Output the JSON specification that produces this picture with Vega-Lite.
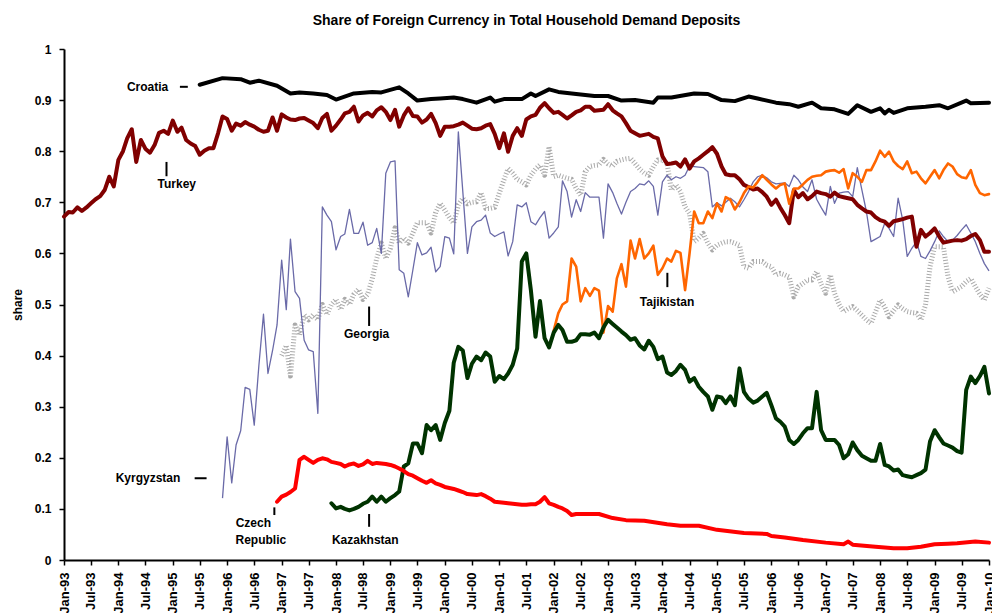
{
  "$schema": "https://vega.github.io/schema/vega-lite/v6.json",
  "width": 925,
  "height": 511,
  "autosize": "none",
  "padding": {"left": 64, "top": 49, "right": 3, "bottom": 53},
  "background": "white",
  "title": {"text": "Share of Foreign Currency in Total Household Demand Deposits", "font": "Liberation Sans", "fontSize": 14, "fontWeight": "bold", "color": "black", "anchor": "middle", "offset": 15},
  "config": {"view": {"stroke": null}},
  "datasets": {
    "croatia": [
      {"date":"1995-07","share":0.930},{"date":"1995-12","share":0.943},{"date":"1996-04","share":0.941},{"date":"1996-06","share":0.934},{"date":"1996-08","share":0.938},{"date":"1996-12","share":0.928},{"date":"1997-03","share":0.913},{"date":"1997-05","share":0.915},{"date":"1997-08","share":0.913},{"date":"1997-11","share":0.910},{"date":"1998-01","share":0.901},{"date":"1998-05","share":0.913},{"date":"1998-09","share":0.916},{"date":"1998-11","share":0.915},{"date":"1999-03","share":0.925},{"date":"1999-05","share":0.913},{"date":"1999-07","share":0.899},{"date":"1999-10","share":0.902},{"date":"1999-12","share":0.903},{"date":"2000-03","share":0.905},{"date":"2000-05","share":0.902},{"date":"2000-08","share":0.895},{"date":"2000-11","share":0.905},{"date":"2000-12","share":0.897},{"date":"2001-02","share":0.902},{"date":"2001-06","share":0.902},{"date":"2001-08","share":0.913},{"date":"2001-09","share":0.908},{"date":"2001-12","share":0.921},{"date":"2002-02","share":0.916},{"date":"2002-06","share":0.912},{"date":"2002-10","share":0.908},{"date":"2003-01","share":0.908},{"date":"2003-04","share":0.899},{"date":"2003-07","share":0.900},{"date":"2003-11","share":0.895},{"date":"2003-12","share":0.905},{"date":"2004-03","share":0.905},{"date":"2004-08","share":0.913},{"date":"2004-11","share":0.912},{"date":"2005-02","share":0.900},{"date":"2005-05","share":0.898},{"date":"2005-08","share":0.907},{"date":"2005-10","share":0.903},{"date":"2006-02","share":0.895},{"date":"2006-05","share":0.892},{"date":"2006-07","share":0.887},{"date":"2006-10","share":0.895},{"date":"2006-12","share":0.884},{"date":"2007-03","share":0.882},{"date":"2007-06","share":0.873},{"date":"2007-08","share":0.890},{"date":"2007-11","share":0.877},{"date":"2008-01","share":0.884},{"date":"2008-02","share":0.874},{"date":"2008-03","share":0.881},{"date":"2008-04","share":0.875},{"date":"2008-07","share":0.884},{"date":"2008-11","share":0.887},{"date":"2009-02","share":0.890},{"date":"2009-04","share":0.884},{"date":"2009-08","share":0.899},{"date":"2009-09","share":0.894},{"date":"2010-01","share":0.895}
    ],
    "turkey": [
      {"date":"1993-01","share":0.672},{"date":"1993-02","share":0.681},{"date":"1993-03","share":0.680},{"date":"1993-04","share":0.690},{"date":"1993-05","share":0.683},{"date":"1993-06","share":0.690},{"date":"1993-07","share":0.698},{"date":"1993-08","share":0.706},{"date":"1993-09","share":0.712},{"date":"1993-10","share":0.724},{"date":"1993-11","share":0.750},{"date":"1993-12","share":0.731},
      {"date":"1994-01","share":0.783},{"date":"1994-02","share":0.800},{"date":"1994-03","share":0.825},{"date":"1994-04","share":0.843},{"date":"1994-05","share":0.779},{"date":"1994-06","share":0.822},{"date":"1994-07","share":0.805},{"date":"1994-08","share":0.797},{"date":"1994-09","share":0.812},{"date":"1994-10","share":0.836},{"date":"1994-11","share":0.840},{"date":"1994-12","share":0.834},
      {"date":"1995-01","share":0.860},{"date":"1995-02","share":0.838},{"date":"1995-03","share":0.846},{"date":"1995-04","share":0.822},{"date":"1995-05","share":0.815},{"date":"1995-06","share":0.810},{"date":"1995-07","share":0.793},{"date":"1995-08","share":0.801},{"date":"1995-09","share":0.806},{"date":"1995-10","share":0.806},{"date":"1995-11","share":0.835},{"date":"1995-12","share":0.868},
      {"date":"1996-01","share":0.863},{"date":"1996-02","share":0.840},{"date":"1996-03","share":0.854},{"date":"1996-04","share":0.850},{"date":"1996-05","share":0.857},{"date":"1996-06","share":0.852},{"date":"1996-07","share":0.848},{"date":"1996-08","share":0.842},{"date":"1996-09","share":0.838},{"date":"1996-10","share":0.840},{"date":"1996-11","share":0.866},{"date":"1996-12","share":0.840},
      {"date":"1997-01","share":0.872},{"date":"1997-02","share":0.866},{"date":"1997-03","share":0.862},{"date":"1997-04","share":0.861},{"date":"1997-05","share":0.864},{"date":"1997-06","share":0.865},{"date":"1997-07","share":0.860},{"date":"1997-08","share":0.855},{"date":"1997-09","share":0.845},{"date":"1997-10","share":0.865},{"date":"1997-11","share":0.873},{"date":"1997-12","share":0.840},
      {"date":"1998-01","share":0.850},{"date":"1998-02","share":0.862},{"date":"1998-03","share":0.874},{"date":"1998-04","share":0.877},{"date":"1998-05","share":0.887},{"date":"1998-06","share":0.858},{"date":"1998-07","share":0.870},{"date":"1998-08","share":0.875},{"date":"1998-09","share":0.868},{"date":"1998-10","share":0.880},{"date":"1998-11","share":0.886},{"date":"1998-12","share":0.877},
      {"date":"1999-01","share":0.861},{"date":"1999-02","share":0.881},{"date":"1999-03","share":0.848},{"date":"1999-04","share":0.870},{"date":"1999-05","share":0.884},{"date":"1999-06","share":0.869},{"date":"1999-07","share":0.868},{"date":"1999-08","share":0.856},{"date":"1999-09","share":0.862},{"date":"1999-10","share":0.873},{"date":"1999-11","share":0.855},{"date":"1999-12","share":0.830},
      {"date":"2000-01","share":0.848},{"date":"2000-02","share":0.848},{"date":"2000-03","share":0.849},{"date":"2000-04","share":0.852},{"date":"2000-05","share":0.856},{"date":"2000-06","share":0.850},{"date":"2000-07","share":0.844},{"date":"2000-08","share":0.843},{"date":"2000-09","share":0.845},{"date":"2000-10","share":0.850},{"date":"2000-11","share":0.853},{"date":"2000-12","share":0.834},
      {"date":"2001-01","share":0.806},{"date":"2001-02","share":0.835},{"date":"2001-03","share":0.799},{"date":"2001-04","share":0.830},{"date":"2001-05","share":0.845},{"date":"2001-06","share":0.830},{"date":"2001-07","share":0.862},{"date":"2001-08","share":0.868},{"date":"2001-09","share":0.871},{"date":"2001-10","share":0.885},{"date":"2001-11","share":0.894},{"date":"2001-12","share":0.884},
      {"date":"2002-01","share":0.875},{"date":"2002-02","share":0.877},{"date":"2002-03","share":0.871},{"date":"2002-04","share":0.864},{"date":"2002-05","share":0.870},{"date":"2002-06","share":0.877},{"date":"2002-07","share":0.880},{"date":"2002-08","share":0.887},{"date":"2002-09","share":0.887},{"date":"2002-10","share":0.879},{"date":"2002-11","share":0.880},{"date":"2002-12","share":0.881},
      {"date":"2003-01","share":0.892},{"date":"2003-02","share":0.880},{"date":"2003-03","share":0.874},{"date":"2003-04","share":0.868},{"date":"2003-05","share":0.855},{"date":"2003-06","share":0.840},{"date":"2003-07","share":0.835},{"date":"2003-08","share":0.830},{"date":"2003-09","share":0.832},{"date":"2003-10","share":0.834},{"date":"2003-11","share":0.828},{"date":"2003-12","share":0.825},
      {"date":"2004-01","share":0.790},{"date":"2004-02","share":0.775},{"date":"2004-03","share":0.776},{"date":"2004-04","share":0.778},{"date":"2004-05","share":0.770},{"date":"2004-06","share":0.784},{"date":"2004-07","share":0.766},{"date":"2004-08","share":0.780},{"date":"2004-09","share":0.786},{"date":"2004-10","share":0.793},{"date":"2004-11","share":0.800},{"date":"2004-12","share":0.808},
      {"date":"2005-01","share":0.795},{"date":"2005-02","share":0.770},{"date":"2005-03","share":0.755},{"date":"2005-04","share":0.753},{"date":"2005-05","share":0.753},{"date":"2005-06","share":0.745},{"date":"2005-07","share":0.734},{"date":"2005-08","share":0.730},{"date":"2005-09","share":0.725},{"date":"2005-10","share":0.727},{"date":"2005-11","share":0.720},{"date":"2005-12","share":0.711},
      {"date":"2006-01","share":0.695},{"date":"2006-02","share":0.705},{"date":"2006-03","share":0.690},{"date":"2006-04","share":0.675},{"date":"2006-05","share":0.659},{"date":"2006-06","share":0.724},{"date":"2006-07","share":0.710},{"date":"2006-08","share":0.718},{"date":"2006-09","share":0.706},{"date":"2006-10","share":0.712},{"date":"2006-11","share":0.721},{"date":"2006-12","share":0.718},
      {"date":"2007-01","share":0.716},{"date":"2007-02","share":0.711},{"date":"2007-03","share":0.719},{"date":"2007-04","share":0.712},{"date":"2007-05","share":0.710},{"date":"2007-06","share":0.708},{"date":"2007-07","share":0.706},{"date":"2007-08","share":0.695},{"date":"2007-09","share":0.688},{"date":"2007-10","share":0.682},{"date":"2007-11","share":0.680},{"date":"2007-12","share":0.671},
      {"date":"2008-01","share":0.665},{"date":"2008-02","share":0.662},{"date":"2008-03","share":0.654},{"date":"2008-04","share":0.663},{"date":"2008-05","share":0.665},{"date":"2008-06","share":0.667},{"date":"2008-07","share":0.670},{"date":"2008-08","share":0.672},{"date":"2008-09","share":0.613},{"date":"2008-10","share":0.646},{"date":"2008-11","share":0.633},{"date":"2008-12","share":0.640},
      {"date":"2009-01","share":0.649},{"date":"2009-02","share":0.633},{"date":"2009-03","share":0.621},{"date":"2009-04","share":0.623},{"date":"2009-05","share":0.625},{"date":"2009-06","share":0.626},{"date":"2009-07","share":0.625},{"date":"2009-08","share":0.628},{"date":"2009-09","share":0.634},{"date":"2009-10","share":0.638},{"date":"2009-11","share":0.626},{"date":"2009-12","share":0.603},{"date":"2010-01","share":0.603}
    ],
    "kyrgyzstan": [
      {"date":"1995-12","share":0.121},
      {"date":"1996-01","share":0.241},{"date":"1996-02","share":0.151},{"date":"1996-03","share":0.225},{"date":"1996-04","share":0.253},{"date":"1996-05","share":0.338},{"date":"1996-06","share":0.334},{"date":"1996-07","share":0.264},{"date":"1996-08","share":0.380},{"date":"1996-09","share":0.481},{"date":"1996-10","share":0.365},{"date":"1996-11","share":0.410},{"date":"1996-12","share":0.460},
      {"date":"1997-01","share":0.587},{"date":"1997-02","share":0.490},{"date":"1997-03","share":0.628},{"date":"1997-04","share":0.525},{"date":"1997-05","share":0.512},{"date":"1997-06","share":0.430},{"date":"1997-07","share":0.411},{"date":"1997-08","share":0.408},{"date":"1997-09","share":0.287},{"date":"1997-10","share":0.691},{"date":"1997-11","share":0.675},{"date":"1997-12","share":0.662},
      {"date":"1998-01","share":0.607},{"date":"1998-02","share":0.633},{"date":"1998-03","share":0.638},{"date":"1998-04","share":0.686},{"date":"1998-05","share":0.639},{"date":"1998-06","share":0.639},{"date":"1998-07","share":0.661},{"date":"1998-08","share":0.616},{"date":"1998-09","share":0.621},{"date":"1998-10","share":0.649},{"date":"1998-11","share":0.600},{"date":"1998-12","share":0.757},
      {"date":"1999-01","share":0.779},{"date":"1999-02","share":0.781},{"date":"1999-03","share":0.568},{"date":"1999-04","share":0.561},{"date":"1999-05","share":0.515},{"date":"1999-06","share":0.568},{"date":"1999-07","share":0.621},{"date":"1999-08","share":0.597},{"date":"1999-09","share":0.601},{"date":"1999-10","share":0.612},{"date":"1999-11","share":0.564},{"date":"1999-12","share":0.574},
      {"date":"2000-01","share":0.633},{"date":"2000-02","share":0.630},{"date":"2000-03","share":0.599},{"date":"2000-04","share":0.838},{"date":"2000-06","share":0.600},{"date":"2000-07","share":0.652},{"date":"2000-08","share":0.662},{"date":"2000-09","share":0.665},{"date":"2000-10","share":0.675},{"date":"2000-11","share":0.640},{"date":"2000-12","share":0.633},
      {"date":"2001-01","share":0.638},{"date":"2001-02","share":0.642},{"date":"2001-03","share":0.595},{"date":"2001-04","share":0.623},{"date":"2001-05","share":0.695},{"date":"2001-06","share":0.691},{"date":"2001-07","share":0.699},{"date":"2001-08","share":0.662},{"date":"2001-09","share":0.656},{"date":"2001-10","share":0.670},{"date":"2001-11","share":0.682},{"date":"2001-12","share":0.630},
      {"date":"2002-01","share":0.640},{"date":"2002-02","share":0.652},{"date":"2002-03","share":0.742},{"date":"2002-04","share":0.721},{"date":"2002-05","share":0.671},{"date":"2002-06","share":0.705},{"date":"2002-07","share":0.682},{"date":"2002-08","share":0.719},{"date":"2002-09","share":0.710},{"date":"2002-10","share":0.710},{"date":"2002-11","share":0.710},{"date":"2002-12","share":0.630},
      {"date":"2003-01","share":0.736},{"date":"2003-02","share":0.719},{"date":"2003-03","share":0.698},{"date":"2003-04","share":0.677},{"date":"2003-05","share":0.700},{"date":"2003-06","share":0.721},{"date":"2003-07","share":0.727},{"date":"2003-08","share":0.736},{"date":"2003-09","share":0.734},{"date":"2003-10","share":0.742},{"date":"2003-11","share":0.731},{"date":"2003-12","share":0.675},
      {"date":"2004-01","share":0.740},{"date":"2004-02","share":0.753},{"date":"2004-03","share":0.744},{"date":"2004-04","share":0.750},{"date":"2004-05","share":0.747},{"date":"2004-06","share":0.753},{"date":"2004-07","share":0.771},{"date":"2004-08","share":0.770},{"date":"2004-09","share":0.769},{"date":"2004-10","share":0.768},{"date":"2004-11","share":0.760},{"date":"2004-12","share":0.691},
      {"date":"2005-01","share":0.699},{"date":"2005-02","share":0.693},{"date":"2005-03","share":0.700},{"date":"2005-04","share":0.708},{"date":"2005-05","share":0.701},{"date":"2005-06","share":0.691},{"date":"2005-07","share":0.705},{"date":"2005-08","share":0.721},{"date":"2005-09","share":0.740},{"date":"2005-10","share":0.750},{"date":"2005-11","share":0.753},{"date":"2005-12","share":0.748},
      {"date":"2006-01","share":0.740},{"date":"2006-02","share":0.736},{"date":"2006-03","share":0.737},{"date":"2006-04","share":0.738},{"date":"2006-05","share":0.731},{"date":"2006-06","share":0.753},{"date":"2006-07","share":0.744},{"date":"2006-08","share":0.730},{"date":"2006-09","share":0.721},{"date":"2006-10","share":0.744},{"date":"2006-11","share":0.706},{"date":"2006-12","share":0.690},
      {"date":"2007-01","share":0.675},{"date":"2007-02","share":0.731},{"date":"2007-03","share":0.698},{"date":"2007-04","share":0.718},{"date":"2007-05","share":0.720},{"date":"2007-06","share":0.721},{"date":"2007-07","share":0.711},{"date":"2007-08","share":0.768},{"date":"2007-09","share":0.724},{"date":"2007-10","share":0.682},{"date":"2007-11","share":0.623},{"date":"2007-12","share":0.628},
      {"date":"2008-01","share":0.633},{"date":"2008-02","share":0.659},{"date":"2008-03","share":0.649},{"date":"2008-04","share":0.633},{"date":"2008-05","share":0.708},{"date":"2008-06","share":0.665},{"date":"2008-07","share":0.594},{"date":"2008-08","share":0.610},{"date":"2008-09","share":0.623},{"date":"2008-10","share":0.594},{"date":"2008-11","share":0.590},{"date":"2008-12","share":0.605},
      {"date":"2009-01","share":0.623},{"date":"2009-02","share":0.644},{"date":"2009-03","share":0.633},{"date":"2009-04","share":0.623},{"date":"2009-05","share":0.626},{"date":"2009-06","share":0.635},{"date":"2009-07","share":0.646},{"date":"2009-08","share":0.656},{"date":"2009-09","share":0.640},{"date":"2009-10","share":0.623},{"date":"2009-11","share":0.600},{"date":"2009-12","share":0.580},{"date":"2010-01","share":0.566}
    ],
    "georgia": [
      {"date":"1997-01","share":0.40},{"date":"1997-02","share":0.42},{"date":"1997-03","share":0.36},{"date":"1997-04","share":0.46},{"date":"1997-05","share":0.44},{"date":"1997-06","share":0.48},{"date":"1997-07","share":0.47},{"date":"1997-08","share":0.48},{"date":"1997-09","share":0.47},{"date":"1997-10","share":0.50},{"date":"1997-11","share":0.48},{"date":"1997-12","share":0.50},
      {"date":"1998-01","share":0.51},{"date":"1998-02","share":0.49},{"date":"1998-03","share":0.51},{"date":"1998-04","share":0.50},{"date":"1998-05","share":0.52},{"date":"1998-06","share":0.53},{"date":"1998-07","share":0.51},{"date":"1998-08","share":0.52},{"date":"1998-09","share":0.55},{"date":"1998-10","share":0.59},{"date":"1998-11","share":0.62},{"date":"1998-12","share":0.59},
      {"date":"1999-01","share":0.61},{"date":"1999-02","share":0.65},{"date":"1999-03","share":0.62},{"date":"1999-04","share":0.63},{"date":"1999-05","share":0.62},{"date":"1999-06","share":0.64},{"date":"1999-07","share":0.66},{"date":"1999-08","share":0.66},{"date":"1999-09","share":0.66},{"date":"1999-10","share":0.64},{"date":"1999-11","share":0.68},{"date":"1999-12","share":0.698},
      {"date":"2000-01","share":0.685},{"date":"2000-02","share":0.670},{"date":"2000-03","share":0.659},{"date":"2000-04","share":0.695},{"date":"2000-05","share":0.708},{"date":"2000-06","share":0.697},{"date":"2000-07","share":0.700},{"date":"2000-08","share":0.701},{"date":"2000-09","share":0.719},{"date":"2000-10","share":0.688},{"date":"2000-11","share":0.688},{"date":"2000-12","share":0.690},
      {"date":"2001-01","share":0.718},{"date":"2001-02","share":0.744},{"date":"2001-03","share":0.766},{"date":"2001-04","share":0.757},{"date":"2001-05","share":0.745},{"date":"2001-06","share":0.740},{"date":"2001-07","share":0.734},{"date":"2001-08","share":0.753},{"date":"2001-09","share":0.765},{"date":"2001-10","share":0.773},{"date":"2001-11","share":0.753},{"date":"2001-12","share":0.809},
      {"date":"2002-01","share":0.750},{"date":"2002-02","share":0.753},{"date":"2002-03","share":0.750},{"date":"2002-04","share":0.747},{"date":"2002-05","share":0.745},{"date":"2002-06","share":0.727},{"date":"2002-07","share":0.714},{"date":"2002-08","share":0.760},{"date":"2002-09","share":0.770},{"date":"2002-10","share":0.772},{"date":"2002-11","share":0.773},{"date":"2002-12","share":0.784},
      {"date":"2003-01","share":0.775},{"date":"2003-02","share":0.771},{"date":"2003-03","share":0.780},{"date":"2003-04","share":0.783},{"date":"2003-05","share":0.785},{"date":"2003-06","share":0.786},{"date":"2003-07","share":0.776},{"date":"2003-08","share":0.765},{"date":"2003-09","share":0.757},{"date":"2003-10","share":0.753},{"date":"2003-11","share":0.770},{"date":"2003-12","share":0.783},
      {"date":"2004-01","share":0.783},{"date":"2004-02","share":0.776},{"date":"2004-03","share":0.724},{"date":"2004-04","share":0.734},{"date":"2004-05","share":0.721},{"date":"2004-06","share":0.691},{"date":"2004-07","share":0.678},{"date":"2004-08","share":0.623},{"date":"2004-09","share":0.630},{"date":"2004-10","share":0.639},{"date":"2004-11","share":0.620},{"date":"2004-12","share":0.607},
      {"date":"2005-01","share":0.616},{"date":"2005-02","share":0.620},{"date":"2005-03","share":0.623},{"date":"2005-04","share":0.623},{"date":"2005-05","share":0.620},{"date":"2005-06","share":0.616},{"date":"2005-07","share":0.574},{"date":"2005-08","share":0.571},{"date":"2005-09","share":0.584},{"date":"2005-10","share":0.584},{"date":"2005-11","share":0.584},{"date":"2005-12","share":0.577},
      {"date":"2006-01","share":0.574},{"date":"2006-02","share":0.558},{"date":"2006-03","share":0.561},{"date":"2006-04","share":0.558},{"date":"2006-05","share":0.554},{"date":"2006-06","share":0.515},{"date":"2006-07","share":0.535},{"date":"2006-08","share":0.541},{"date":"2006-09","share":0.548},{"date":"2006-10","share":0.548},{"date":"2006-11","share":0.564},{"date":"2006-12","share":0.540},
      {"date":"2007-01","share":0.522},{"date":"2007-02","share":0.558},{"date":"2007-03","share":0.522},{"date":"2007-04","share":0.500},{"date":"2007-05","share":0.486},{"date":"2007-06","share":0.492},{"date":"2007-07","share":0.496},{"date":"2007-08","share":0.488},{"date":"2007-09","share":0.479},{"date":"2007-10","share":0.470},{"date":"2007-11","share":0.463},{"date":"2007-12","share":0.485},
      {"date":"2008-01","share":0.509},{"date":"2008-02","share":0.495},{"date":"2008-03","share":0.476},{"date":"2008-04","share":0.488},{"date":"2008-05","share":0.499},{"date":"2008-06","share":0.492},{"date":"2008-07","share":0.486},{"date":"2008-08","share":0.484},{"date":"2008-09","share":0.483},{"date":"2008-10","share":0.470},{"date":"2008-11","share":0.499},{"date":"2008-12","share":0.574},
      {"date":"2009-01","share":0.613},{"date":"2009-02","share":0.613},{"date":"2009-03","share":0.613},{"date":"2009-04","share":0.554},{"date":"2009-05","share":0.525},{"date":"2009-06","share":0.530},{"date":"2009-07","share":0.535},{"date":"2009-08","share":0.545},{"date":"2009-09","share":0.551},{"date":"2009-10","share":0.535},{"date":"2009-11","share":0.520},{"date":"2009-12","share":0.509},{"date":"2010-01","share":0.532}
    ],
    "tajikistan": [
      {"date":"2002-01","share":0.449},{"date":"2002-02","share":0.483},{"date":"2002-03","share":0.500},{"date":"2002-04","share":0.506},{"date":"2002-05","share":0.590},{"date":"2002-06","share":0.574},{"date":"2002-07","share":0.506},{"date":"2002-08","share":0.532},{"date":"2002-09","share":0.517},{"date":"2002-10","share":0.532},{"date":"2002-11","share":0.527},{"date":"2002-12","share":0.445},
      {"date":"2003-01","share":0.497},{"date":"2003-02","share":0.486},{"date":"2003-03","share":0.551},{"date":"2003-04","share":0.579},{"date":"2003-05","share":0.535},{"date":"2003-06","share":0.625},{"date":"2003-07","share":0.590},{"date":"2003-08","share":0.628},{"date":"2003-09","share":0.590},{"date":"2003-10","share":0.600},{"date":"2003-11","share":0.615},{"date":"2003-12","share":0.558},
      {"date":"2004-01","share":0.571},{"date":"2004-02","share":0.590},{"date":"2004-03","share":0.584},{"date":"2004-04","share":0.605},{"date":"2004-05","share":0.601},{"date":"2004-06","share":0.528},{"date":"2004-07","share":0.600},{"date":"2004-08","share":0.682},{"date":"2004-09","share":0.659},{"date":"2004-10","share":0.659},{"date":"2004-11","share":0.682},{"date":"2004-12","share":0.669},
      {"date":"2005-01","share":0.698},{"date":"2005-02","share":0.682},{"date":"2005-03","share":0.710},{"date":"2005-04","share":0.705},{"date":"2005-05","share":0.686},{"date":"2005-06","share":0.700},{"date":"2005-07","share":0.718},{"date":"2005-08","share":0.731},{"date":"2005-09","share":0.729},{"date":"2005-10","share":0.740},{"date":"2005-11","share":0.753},{"date":"2005-12","share":0.744},
      {"date":"2006-01","share":0.735},{"date":"2006-02","share":0.727},{"date":"2006-03","share":0.734},{"date":"2006-04","share":0.737},{"date":"2006-05","share":0.697},{"date":"2006-06","share":0.727},{"date":"2006-07","share":0.727},{"date":"2006-08","share":0.735},{"date":"2006-09","share":0.744},{"date":"2006-10","share":0.750},{"date":"2006-11","share":0.752},{"date":"2006-12","share":0.753},
      {"date":"2007-01","share":0.760},{"date":"2007-02","share":0.762},{"date":"2007-03","share":0.763},{"date":"2007-04","share":0.758},{"date":"2007-05","share":0.765},{"date":"2007-06","share":0.727},{"date":"2007-07","share":0.757},{"date":"2007-08","share":0.750},{"date":"2007-09","share":0.740},{"date":"2007-10","share":0.763},{"date":"2007-11","share":0.763},{"date":"2007-12","share":0.780},
      {"date":"2008-01","share":0.801},{"date":"2008-02","share":0.789},{"date":"2008-03","share":0.799},{"date":"2008-04","share":0.780},{"date":"2008-05","share":0.771},{"date":"2008-06","share":0.765},{"date":"2008-07","share":0.780},{"date":"2008-08","share":0.757},{"date":"2008-09","share":0.760},{"date":"2008-10","share":0.747},{"date":"2008-11","share":0.737},{"date":"2008-12","share":0.750},
      {"date":"2009-01","share":0.763},{"date":"2009-02","share":0.747},{"date":"2009-03","share":0.763},{"date":"2009-04","share":0.776},{"date":"2009-05","share":0.770},{"date":"2009-06","share":0.755},{"date":"2009-07","share":0.749},{"date":"2009-08","share":0.747},{"date":"2009-09","share":0.763},{"date":"2009-10","share":0.734},{"date":"2009-11","share":0.718},{"date":"2009-12","share":0.714},{"date":"2010-01","share":0.716}
    ],
    "kazakhstan": [
      {"date":"1997-12","share":0.111},
      {"date":"1998-01","share":0.101},{"date":"1998-02","share":0.104},{"date":"1998-03","share":0.100},{"date":"1998-04","share":0.097},{"date":"1998-05","share":0.100},{"date":"1998-06","share":0.104},{"date":"1998-07","share":0.110},{"date":"1998-08","share":0.114},{"date":"1998-09","share":0.124},{"date":"1998-10","share":0.114},{"date":"1998-11","share":0.124},{"date":"1998-12","share":0.114},
      {"date":"1999-01","share":0.121},{"date":"1999-02","share":0.127},{"date":"1999-03","share":0.134},{"date":"1999-04","share":0.183},{"date":"1999-05","share":0.189},{"date":"1999-06","share":0.228},{"date":"1999-07","share":0.228},{"date":"1999-08","share":0.209},{"date":"1999-09","share":0.264},{"date":"1999-10","share":0.254},{"date":"1999-11","share":0.264},{"date":"1999-12","share":0.235},
      {"date":"2000-01","share":0.268},{"date":"2000-02","share":0.292},{"date":"2000-03","share":0.386},{"date":"2000-04","share":0.417},{"date":"2000-05","share":0.410},{"date":"2000-06","share":0.356},{"date":"2000-07","share":0.384},{"date":"2000-08","share":0.398},{"date":"2000-09","share":0.391},{"date":"2000-10","share":0.406},{"date":"2000-11","share":0.398},{"date":"2000-12","share":0.349},
      {"date":"2001-01","share":0.360},{"date":"2001-02","share":0.354},{"date":"2001-03","share":0.365},{"date":"2001-04","share":0.382},{"date":"2001-05","share":0.414},{"date":"2001-06","share":0.584},{"date":"2001-07","share":0.600},{"date":"2001-08","share":0.528},{"date":"2001-09","share":0.437},{"date":"2001-10","share":0.507},{"date":"2001-11","share":0.434},{"date":"2001-12","share":0.416},
      {"date":"2002-01","share":0.445},{"date":"2002-02","share":0.460},{"date":"2002-03","share":0.450},{"date":"2002-04","share":0.427},{"date":"2002-05","share":0.427},{"date":"2002-06","share":0.430},{"date":"2002-07","share":0.442},{"date":"2002-08","share":0.442},{"date":"2002-09","share":0.441},{"date":"2002-10","share":0.445},{"date":"2002-11","share":0.434},{"date":"2002-12","share":0.455},
      {"date":"2003-01","share":0.470},{"date":"2003-02","share":0.462},{"date":"2003-03","share":0.455},{"date":"2003-04","share":0.447},{"date":"2003-05","share":0.440},{"date":"2003-06","share":0.431},{"date":"2003-07","share":0.434},{"date":"2003-08","share":0.420},{"date":"2003-09","share":0.412},{"date":"2003-10","share":0.429},{"date":"2003-11","share":0.417},{"date":"2003-12","share":0.393},
      {"date":"2004-01","share":0.398},{"date":"2004-02","share":0.367},{"date":"2004-03","share":0.362},{"date":"2004-04","share":0.370},{"date":"2004-05","share":0.382},{"date":"2004-06","share":0.372},{"date":"2004-07","share":0.349},{"date":"2004-08","share":0.356},{"date":"2004-09","share":0.339},{"date":"2004-10","share":0.329},{"date":"2004-11","share":0.320},{"date":"2004-12","share":0.294},
      {"date":"2005-01","share":0.320},{"date":"2005-02","share":0.318},{"date":"2005-03","share":0.307},{"date":"2005-04","share":0.320},{"date":"2005-05","share":0.303},{"date":"2005-06","share":0.375},{"date":"2005-07","share":0.329},{"date":"2005-08","share":0.316},{"date":"2005-09","share":0.308},{"date":"2005-10","share":0.312},{"date":"2005-11","share":0.320},{"date":"2005-12","share":0.327},
      {"date":"2006-01","share":0.303},{"date":"2006-02","share":0.277},{"date":"2006-03","share":0.271},{"date":"2006-04","share":0.261},{"date":"2006-05","share":0.235},{"date":"2006-06","share":0.227},{"date":"2006-07","share":0.235},{"date":"2006-08","share":0.248},{"date":"2006-09","share":0.258},{"date":"2006-10","share":0.258},{"date":"2006-11","share":0.329},{"date":"2006-12","share":0.254},
      {"date":"2007-01","share":0.235},{"date":"2007-02","share":0.235},{"date":"2007-03","share":0.235},{"date":"2007-04","share":0.225},{"date":"2007-05","share":0.199},{"date":"2007-06","share":0.207},{"date":"2007-07","share":0.230},{"date":"2007-08","share":0.215},{"date":"2007-09","share":0.204},{"date":"2007-10","share":0.199},{"date":"2007-11","share":0.194},{"date":"2007-12","share":0.194},
      {"date":"2008-01","share":0.227},{"date":"2008-02","share":0.186},{"date":"2008-03","share":0.183},{"date":"2008-04","share":0.175},{"date":"2008-05","share":0.177},{"date":"2008-06","share":0.166},{"date":"2008-07","share":0.164},{"date":"2008-08","share":0.162},{"date":"2008-09","share":0.166},{"date":"2008-10","share":0.170},{"date":"2008-11","share":0.177},{"date":"2008-12","share":0.232},
      {"date":"2009-01","share":0.254},{"date":"2009-02","share":0.240},{"date":"2009-03","share":0.228},{"date":"2009-04","share":0.224},{"date":"2009-05","share":0.220},{"date":"2009-06","share":0.213},{"date":"2009-07","share":0.210},{"date":"2009-08","share":0.333},{"date":"2009-09","share":0.359},{"date":"2009-10","share":0.346},{"date":"2009-11","share":0.360},{"date":"2009-12","share":0.378},{"date":"2010-01","share":0.326}
    ],
    "czech": [
      {"date":"1996-12","share":0.114},
      {"date":"1997-01","share":0.124},{"date":"1997-02","share":0.128},{"date":"1997-03","share":0.133},{"date":"1997-04","share":0.140},{"date":"1997-05","share":0.196},{"date":"1997-06","share":0.202},{"date":"1997-07","share":0.196},{"date":"1997-08","share":0.190},{"date":"1997-09","share":0.196},{"date":"1997-10","share":0.199},{"date":"1997-11","share":0.197},{"date":"1997-12","share":0.192},
      {"date":"1998-01","share":0.190},{"date":"1998-02","share":0.188},{"date":"1998-03","share":0.183},{"date":"1998-04","share":0.187},{"date":"1998-05","share":0.189},{"date":"1998-06","share":0.184},{"date":"1998-07","share":0.187},{"date":"1998-08","share":0.194},{"date":"1998-09","share":0.188},{"date":"1998-10","share":0.190},{"date":"1998-11","share":0.189},{"date":"1998-12","share":0.188},
      {"date":"1999-01","share":0.186},{"date":"1999-02","share":0.183},{"date":"1999-03","share":0.179},{"date":"1999-04","share":0.174},{"date":"1999-05","share":0.168},{"date":"1999-06","share":0.165},{"date":"1999-07","share":0.160},{"date":"1999-08","share":0.155},{"date":"1999-09","share":0.151},{"date":"1999-10","share":0.156},{"date":"1999-11","share":0.150},{"date":"1999-12","share":0.147},
      {"date":"2000-01","share":0.143},{"date":"2000-02","share":0.141},{"date":"2000-03","share":0.139},{"date":"2000-04","share":0.136},{"date":"2000-05","share":0.133},{"date":"2000-06","share":0.129},{"date":"2000-07","share":0.128},{"date":"2000-08","share":0.127},{"date":"2000-09","share":0.129},{"date":"2000-10","share":0.125},{"date":"2000-11","share":0.120},{"date":"2000-12","share":0.114},
      {"date":"2001-01","share":0.113},{"date":"2001-02","share":0.112},{"date":"2001-03","share":0.111},{"date":"2001-04","share":0.110},{"date":"2001-05","share":0.109},{"date":"2001-06","share":0.108},{"date":"2001-07","share":0.108},{"date":"2001-08","share":0.109},{"date":"2001-09","share":0.109},{"date":"2001-10","share":0.114},{"date":"2001-11","share":0.123},{"date":"2001-12","share":0.111},
      {"date":"2002-01","share":0.108},{"date":"2002-02","share":0.104},{"date":"2002-03","share":0.101},{"date":"2002-04","share":0.096},{"date":"2002-05","share":0.088},{"date":"2002-06","share":0.090},{"date":"2002-07","share":0.090},{"date":"2002-11","share":0.090},
      {"date":"2003-02","share":0.082},{"date":"2003-05","share":0.078},{"date":"2003-09","share":0.077},{"date":"2004-02","share":0.070},{"date":"2004-05","share":0.067},{"date":"2004-09","share":0.067},{"date":"2005-01","share":0.059},{"date":"2005-07","share":0.053},{"date":"2005-12","share":0.051},{"date":"2006-01","share":0.047},{"date":"2006-04","share":0.044},{"date":"2006-08","share":0.039},{"date":"2007-01","share":0.034},{"date":"2007-05","share":0.031},{"date":"2007-06","share":0.036},{"date":"2007-07","share":0.030},{"date":"2007-12","share":0.026},{"date":"2008-04","share":0.023},{"date":"2008-07","share":0.023},{"date":"2008-10","share":0.026},{"date":"2009-01","share":0.031},{"date":"2009-04","share":0.032},{"date":"2009-06","share":0.033},{"date":"2009-10","share":0.036},{"date":"2010-01","share":0.034}
    ],
    "labels": [
      {"label":"Croatia","date":"1994-07-16","share":0.925},
      {"label":"Turkey","date":"1995-01-28","share":0.736},
      {"label":"Georgia","date":"1998-07-25","share":0.442},
      {"label":"Kyrgyzstan","date":"1994-07-19","share":0.160},
      {"label":"Czech","date":"1996-06-25","share":0.072},
      {"label":"Republic","date":"1996-08-14","share":0.040},
      {"label":"Kazakhstan","date":"1998-07-16","share":0.040},
      {"label":"Tajikistan","date":"2004-02-01","share":0.504}
    ],
    "leaders": [
      {"date":"1995-02-18","date2":"1995-04-12","share":0.926,"share2":0.926},
      {"date":"1994-11-20","date2":"1994-11-20","share":0.779,"share2":0.751},
      {"date":"1998-08-11","date2":"1998-08-11","share":0.496,"share2":0.458},
      {"date":"1995-05-28","date2":"1995-08-16","share":0.160,"share2":0.160},
      {"date":"1996-11-13","date2":"1996-11-13","share":0.103,"share2":0.088},
      {"date":"1998-08-11","date2":"1998-08-11","share":0.090,"share2":0.065},
      {"date":"2004-02-03","date2":"2004-02-03","share":0.562,"share2":0.534}
    ]
  },
  "encoding": {
    "x": {
      "field": "date", "type": "temporal", "title": null,
      "scale": {"type": "utc", "domain": [{"year": 1993, "month": 1, "date": 1, "utc": true}, {"year": 2010, "month": 1, "date": 1, "utc": true}]},
      "axis": {"labelExpr": "utcFormat(datum.value, '%b-%y')", "tickCount": {"interval": "month", "step": 6}, "labelAngle": -90, "labelFont": "Liberation Sans", "labelFontSize": 13, "labelFontWeight": "bold", "labelColor": "black", "labelPadding": 7, "labelOverlap": false, "labelFlush": false, "tickSize": 5, "tickColor": "black", "tickWidth": 1.5, "domainColor": "black", "domainWidth": 2, "grid": false}
    },
    "y": {
      "field": "share", "type": "quantitative", "title": "share",
      "scale": {"domain": [0, 1], "nice": false},
      "axis": {"values": [0, 0.1, 0.2, 0.3, 0.4, 0.5, 0.6, 0.7, 0.8, 0.9, 1], "format": "~g", "labelFont": "Liberation Sans", "labelFontSize": 12, "labelFontWeight": "bold", "labelColor": "black", "labelPadding": 8, "tickSize": 5, "tickColor": "black", "tickWidth": 1.5, "domainColor": "black", "domainWidth": 2, "grid": false, "titleFont": "Liberation Sans", "titleFontSize": 12, "titleFontWeight": "bold", "titleColor": "black", "titlePadding": 10}
    }
  },
  "layer": [
    {"data": {"name": "georgia"}, "mark": {"type": "line", "color": "#555555", "opacity": 0.5, "strokeWidth": 5, "strokeDash": [1, 2], "strokeCap": "butt", "strokeJoin": "round"}},
    {"data": {"name": "kyrgyzstan"}, "mark": {"type": "line", "color": "#6a6aa8", "strokeWidth": 1.3, "strokeJoin": "round"}},
    {"data": {"name": "turkey"}, "mark": {"type": "line", "color": "#800000", "strokeWidth": 4, "strokeJoin": "round", "strokeCap": "round"}},
    {"data": {"name": "tajikistan"}, "mark": {"type": "line", "color": "#ff6600", "strokeWidth": 2.6, "strokeJoin": "round", "strokeCap": "round"}},
    {"data": {"name": "croatia"}, "mark": {"type": "line", "color": "#000000", "strokeWidth": 4, "strokeJoin": "round", "strokeCap": "round"}},
    {"data": {"name": "kazakhstan"}, "mark": {"type": "line", "color": "#003300", "strokeWidth": 4, "strokeJoin": "round", "strokeCap": "round"}},
    {"data": {"name": "czech"}, "mark": {"type": "line", "color": "#ff0000", "strokeWidth": 4, "strokeJoin": "round", "strokeCap": "round"}},
    {"data": {"name": "leaders"}, "mark": {"type": "rule", "color": "black", "strokeWidth": 2}, "encoding": {"x2": {"field": "date2"}, "y2": {"field": "share2"}}},
    {"data": {"name": "labels"}, "mark": {"type": "text", "font": "Liberation Sans", "fontSize": 12, "fontWeight": "bold", "color": "black", "align": "center", "baseline": "middle"}, "encoding": {"text": {"field": "label"}}}
  ]
}
